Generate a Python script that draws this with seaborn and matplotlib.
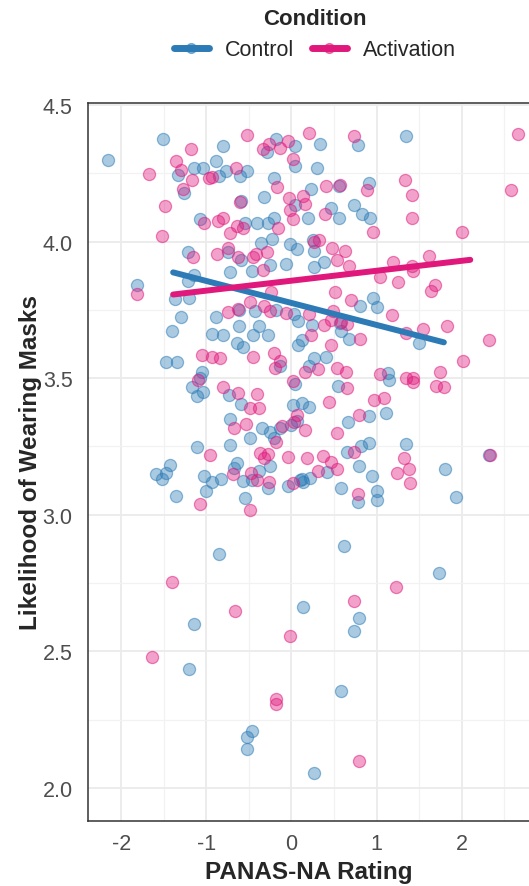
import numpy as np
import pandas as pd
import matplotlib
matplotlib.use("Agg")
import matplotlib.pyplot as plt
from matplotlib.lines import Line2D
from matplotlib.ticker import MultipleLocator
import seaborn as sns

# Pontos (PANAS-NA, probabilidade de usar máscara)
ctrl_x = [-2.15, -1.51, -0.81, -1.33, -1.15, -1.04, -0.89, -0.85, -0.77, -0.61, -0.52, -1.26,
          -1.08, -0.55, -0.41, -0.59, -0.32, -0.21, -0.18, -0.29, 0.04, 0.04, -0.28, -0.20,
          0.04, -1.21, -0.75, -0.59, -0.36, -0.23, -0.02, 0.06, -0.72, -0.46, -0.25, -0.06,
          -1.15, -1.22, -1.82, -1.37, -1.20, -1.30, -1.40, -1.47, -1.35, -0.89, -0.93, -0.80,
          -0.62, -0.62, -0.64, -0.57, -0.43, -0.18, -0.38, -0.45, -0.28, -0.13, -1.05, -1.08,
          -1.17, -1.04, -1.11, -0.73, -0.59, -0.72, -0.49, -0.35, -0.25, -0.20, -0.14, -0.01,
          0.02, 0.04, -1.11, -0.72, -0.68, -0.64, -0.25, -0.38, -0.57, -0.46, -0.28, -0.04,
          0.10, -1.59, -1.52, -1.47, -1.43, -1.36, -1.03, -0.93, -0.83, -1.00, -0.55, -0.85,
          -1.14, -1.20, -0.46, -0.52, -0.52, 0.13, 0.34, 0.30, 0.78, 1.35, 0.56, 0.91,
          0.23, 0.46, 0.56, 0.73, 0.83, 0.92, 0.19, 0.25, 0.26, 0.38, 0.27, 0.80,
          0.96, 1.01, 0.03, 0.08, 0.24, 0.57, 0.58, 0.67, 1.50, 0.12, 0.08, 0.41,
          0.27, 0.20, 0.55, 1.13, 1.15, 0.12, 0.20, 0.07, 1.11, 0.91, 0.66, 1.35,
          2.32, 0.91, 0.82, 0.65, 0.79, 0.42, 0.22, 0.12, 0.14, 0.58, 0.94, 0.78,
          1.00, 1.00, 1.80, 1.93, 0.62, 1.73, 0.79, 0.74, 0.58, 0.27]
ctrl_y = [4.300, 4.376, 4.351, 4.243, 4.269, 4.269, 4.294, 4.240, 4.258, 4.240, 4.257, 4.176,
          4.081, 4.067, 4.068, 4.150, 4.164, 4.231, 4.376, 4.328, 4.350, 4.277, 4.067, 4.085,
          4.133, 3.961, 3.961, 3.933, 3.996, 4.010, 3.991, 3.973, 3.888, 3.893, 3.915, 3.917,
          3.879, 3.857, 3.842, 3.791, 3.793, 3.724, 3.671, 3.559, 3.559, 3.724, 3.661, 3.659,
          3.751, 3.692, 3.628, 3.614, 3.747, 3.751, 3.689, 3.659, 3.659, 3.543, 3.522, 3.500,
          3.467, 3.451, 3.433, 3.439, 3.405, 3.350, 3.280, 3.317, 3.301, 3.280, 3.317, 3.329,
          3.402, 3.480, 3.249, 3.256, 3.172, 3.188, 3.178, 3.160, 3.123, 3.127, 3.099, 3.106,
          3.127, 3.148, 3.130, 3.152, 3.182, 3.070, 3.142, 3.121, 3.130, 3.087, 3.062, 2.857,
          2.600, 2.435, 2.209, 2.186, 2.143, 2.661, 4.356, 4.269, 4.354, 4.388, 4.203, 4.216,
          4.191, 4.121, 4.087, 4.133, 4.101, 4.085, 4.085, 4.004, 3.964, 3.925, 3.905, 3.763,
          3.793, 3.759, 3.735, 3.710, 3.696, 3.702, 3.671, 3.643, 3.628, 3.641, 3.622, 3.579,
          3.573, 3.546, 3.472, 3.518, 3.494, 3.408, 3.396, 3.344, 3.374, 3.363, 3.339, 3.258,
          3.219, 3.264, 3.252, 3.229, 3.180, 3.158, 3.133, 3.131, 3.119, 3.097, 3.143, 3.046,
          3.087, 3.054, 3.166, 3.066, 2.885, 2.787, 2.622, 2.576, 2.356, 2.054]

act_x = [-1.67, -1.18, -0.52, -1.36, -1.30, -1.17, -0.97, -0.93, -0.65, -1.27, -1.49, -1.52,
         -1.03, -0.86, -0.81, -0.72, -0.64, -0.57, -0.61, -0.17, -0.33, -0.26, -0.14, -0.04,
         0.02, -0.16, -0.03, -0.02, 0.02, -1.16, -0.88, -0.74, -0.63, -0.45, -0.42, -0.29,
         -0.33, -1.82, -0.74, -0.63, -0.49, -0.32, -0.25, -0.24, -0.06, -0.45, -0.21, -0.14,
         -0.19, -1.05, -0.93, -0.84, -1.10, -0.81, -0.63, -0.41, -0.49, -0.38, -0.68, -0.53,
         -0.18, -0.11, 0.03, 0.02, -0.96, -0.37, -0.32, -0.27, -0.04, -0.69, -0.48, -0.41,
         -0.26, -1.07, -0.49, -1.40, -0.66, -1.64, -0.02, -0.18, -0.18, 0.20, 0.74, 2.66,
         0.40, 0.57, 0.89, 1.33, 1.41, 2.58, 0.14, 0.16, 0.39, 0.96, 1.42, 2.00,
         0.26, 0.32, 0.48, 0.63, 0.53, 0.67, 1.19, 1.41, 1.43, 1.62, 1.04, 1.25,
         1.69, 1.64, 0.51, 0.70, 1.18, 0.21, 0.49, 0.47, 0.38, 0.58, 0.65, 0.80,
         1.34, 1.55, 1.83, 2.32, 2.01, 0.23, 0.47, 0.31, 0.16, 0.54, 0.64, 0.65,
         1.04, 1.34, 1.43, 1.43, 1.75, 1.70, 1.79, 0.07, 0.16, 0.44, 0.97, 1.09,
         0.79, 0.53, 2.33, 0.74, 0.18, 0.37, 0.47, 0.54, 0.31, 0.02, 0.78, 1.32,
         1.38, 1.24, 1.39, 1.23, 0.74, 0.79]
act_y = [4.248, 4.339, 4.390, 4.296, 4.263, 4.225, 4.233, 4.235, 4.269, 4.192, 4.131, 4.022,
         4.066, 4.076, 4.087, 4.030, 4.058, 4.049, 4.146, 4.199, 4.337, 4.356, 4.342, 4.367,
         4.301, 4.051, 4.158, 4.115, 4.083, 3.942, 3.955, 3.978, 3.945, 3.945, 3.955, 3.961,
         3.897, 3.808, 3.741, 3.753, 3.779, 3.763, 3.744, 3.815, 3.738, 3.577, 3.592, 3.561,
         3.537, 3.586, 3.579, 3.573, 3.494, 3.469, 3.445, 3.441, 3.392, 3.392, 3.317, 3.333,
         3.265, 3.323, 3.339, 3.488, 3.219, 3.225, 3.209, 3.221, 3.213, 3.148, 3.154, 3.127,
         3.119, 3.038, 3.017, 2.755, 2.647, 2.480, 2.557, 2.325, 2.309, 4.397, 4.388, 4.394,
         4.204, 4.206, 4.188, 4.225, 4.170, 4.188, 4.167, 4.136, 4.101, 4.036, 4.085, 4.036,
         4.000, 4.006, 3.978, 3.964, 3.931, 3.909, 3.925, 3.909, 3.893, 3.948, 3.869, 3.851,
         3.840, 3.818, 3.814, 3.785, 3.732, 3.735, 3.744, 3.714, 3.696, 3.705, 3.699, 3.644,
         3.665, 3.681, 3.692, 3.638, 3.564, 3.659, 3.622, 3.534, 3.522, 3.537, 3.521, 3.463,
         3.515, 3.502, 3.500, 3.485, 3.522, 3.473, 3.466, 3.366, 3.311, 3.412, 3.421, 3.429,
         3.366, 3.298, 3.220, 3.229, 3.209, 3.216, 3.192, 3.166, 3.160, 3.115, 3.075, 3.209,
         3.167, 3.152, 3.115, 2.735, 2.686, 2.097]

# Retas de regressão (extremos)
conditions = ["Control", "Activation"]
fit_x = {"Control": [-1.39, 1.79], "Activation": [-1.39, 2.10]}
fit_y = {"Control": [3.887, 3.631], "Activation": [3.806, 3.933]}

colors = {"Control": "#2c7bb6", "Activation": "#e0187c"}

df = pd.DataFrame({
    "PANAS-NA Rating": ctrl_x + act_x,
    "Likelihood of Wearing Masks": ctrl_y + act_y,
    "Condition": ["Control"] * len(ctrl_x) + ["Activation"] * len(act_x),
})

sns.set_style("white")
plt.rcParams["font.family"] = ["Liberation Sans", "DejaVu Sans"]
plt.rcParams["axes.unicode_minus"] = False

fig = plt.figure(figsize=(5.29, 8.87), dpi=100)
ax = fig.add_axes([88 / 529, 65 / 887, 441 / 529, 718 / 887])

for cond in conditions:
    sub = df[df["Condition"] == cond]
    rgb = matplotlib.colors.to_rgb(colors[cond])
    sns.scatterplot(data=sub, x="PANAS-NA Rating", y="Likelihood of Wearing Masks", ax=ax,
                    s=76, color=(*rgb, 0.4), edgecolor=(*rgb, 0.52), linewidth=0.9,
                    legend=False, zorder=3)

for cond in conditions:
    sns.lineplot(x=fit_x[cond], y=fit_y[cond], ax=ax, color=colors[cond], linewidth=4.3,
                 legend=False, zorder=4)

ax.set_xlim(-2.39, 2.79)
ax.set_ylim(1.879, 4.507)
ax.xaxis.set_major_locator(MultipleLocator(1))
ax.xaxis.set_minor_locator(MultipleLocator(0.5))
ax.yaxis.set_major_locator(MultipleLocator(0.5))
ax.yaxis.set_minor_locator(MultipleLocator(0.25))
ax.set_yticks([2.0, 2.5, 3.0, 3.5, 4.0, 4.5])
ax.set_yticklabels(["2.0", "2.5", "3.0", "3.5", "4.0", "4.5"])
ax.grid(which="major", color="#ebebeb", linewidth=1.3, zorder=0)
ax.grid(which="minor", color="#f2f2f2", linewidth=0.9, zorder=0)
ax.set_axisbelow(True)

for side in ["left", "bottom", "top"]:
    ax.spines[side].set_color("#333333")
    ax.spines[side].set_linewidth(1.1)
ax.spines["right"].set_visible(False)

ax.tick_params(axis="both", which="major", length=5, width=1.1, color="#333333",
               labelsize=15.5, labelcolor="#4d4d4d", pad=4)
ax.tick_params(axis="y", which="major", pad=6)
ax.tick_params(axis="both", which="minor", length=0)

ax.set_xlabel("PANAS-NA Rating", fontsize=17.5, fontweight="bold", labelpad=4)
ax.set_ylabel("Likelihood of Wearing Masks", fontsize=17.5, fontweight="bold")
ax.yaxis.set_label_coords(-0.104, 0.5)

handles = []
for cond in conditions:
    rgb = matplotlib.colors.to_rgb(colors[cond])
    handles.append(Line2D([], [], color=colors[cond], linewidth=5, marker="o", markersize=7,
                          markerfacecolor=(*rgb, 0.5), markeredgecolor=(*rgb, 0.6)))
leg = fig.legend(handles, conditions, title="Condition", ncol=2, loc="upper center",
                 bbox_to_anchor=(315 / 529, 1.012), frameon=False, fontsize=15.5,
                 handlelength=1.65, handletextpad=0.75, columnspacing=0.8)
leg.get_title().set_fontweight("bold")
leg.get_title().set_fontsize(16)

fig.savefig("out.png", dpi=100)
